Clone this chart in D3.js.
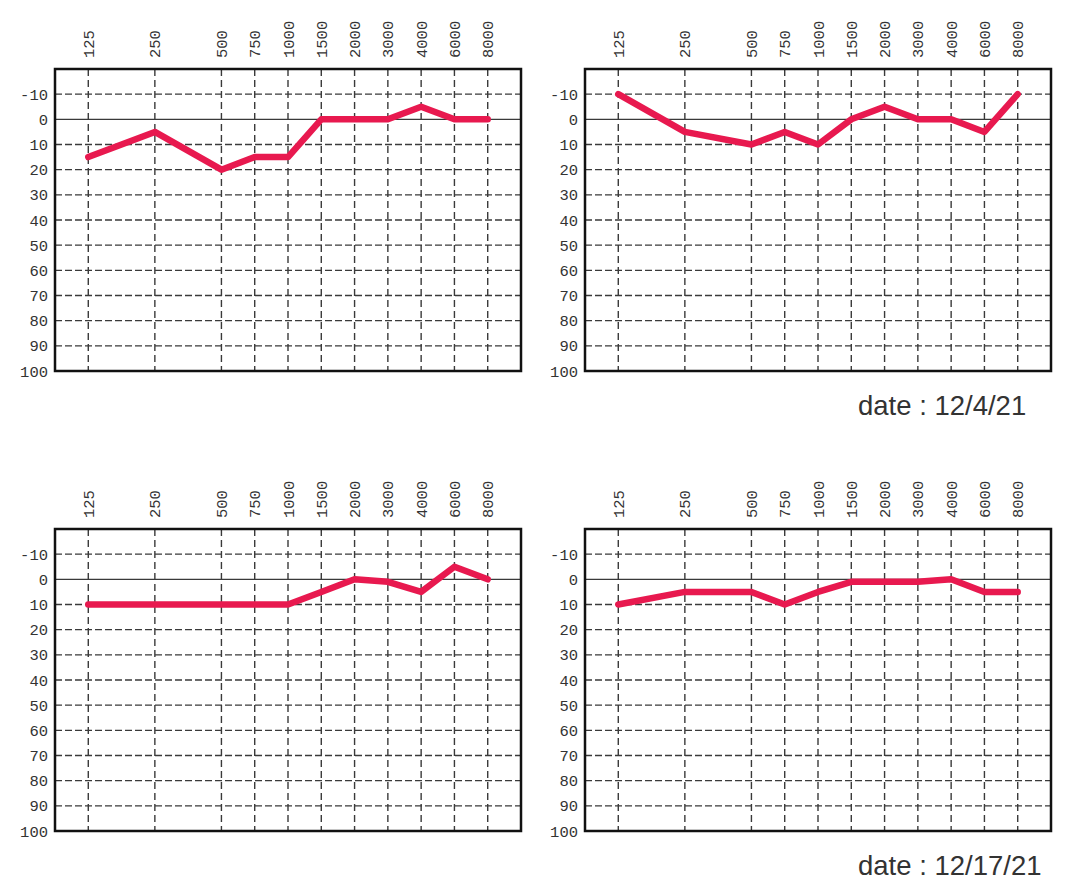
<!DOCTYPE html>
<html>
<head>
<meta charset="utf-8">
<script src="https://cdn.jsdelivr.net/npm/d3@7"></script>
<style>
  body { margin: 0; background: #fff; }
</style>
</head>
<body>
<script>
// audiogram panels, 2 x 2

const freqs = [125, 250, 500, 750, 1000, 1500, 2000, 3000, 4000, 6000, 8000];
const dbTicks = [-10, 0, 10, 20, 30, 40, 50, 60, 70, 80, 90, 100];

// hearing level (dB) per frequency, one array per panel
const topLeft = [15, 5, 20, 15, 15, 0, 0, 0, -5, 0, 0];
const topRight = [-10, 5, 10, 5, 10, 0, -5, 0, 0, 5, -10];
const bottomLeft = [10, 10, 10, 10, 10, 5, 0, 1, 5, -5, 0];
const bottomRight = [10, 5, 5, 10, 5, 1, 1, 1, 0, 5, 5];

const dates = ["date : 12/4/21", "date : 12/17/21"];

//---- drawing parameters
const W = 1068, H = 888;
const plotW = 466, plotH = 302;
const colX = [55, 585];
const rowY = [69, 529];
const lineColor = "#e8194f";
const labelFont = "'Liberation Mono', 'DejaVu Sans Mono', monospace";

const svg = d3.select("body").append("svg")
  .attr("width", W)
  .attr("height", H);

// slot on the audiogram: octaves get 2 slots, the in-between freqs sit one slot on
const slot = f => Math.round(2 * Math.log2(f / 125));

const x = d3.scaleLinear().domain([-1, 13]).range([0, plotW]);
const y = d3.scaleLinear().domain([-20, 100]).range([0, plotH]);

const panels = [
  { values: topLeft, col: 0, row: 0 },
  { values: topRight, col: 1, row: 0 },
  { values: bottomLeft, col: 0, row: 1 },
  { values: bottomRight, col: 1, row: 1 }
];

panels.forEach(p => {
  const g = svg.append("g")
    .attr("transform", `translate(${colX[p.col]},${rowY[p.row]})`);

  // horizontal grid (0 line is solid)
  g.selectAll("line.h")
      .data(dbTicks.filter(d => d < 100))
      .enter()
    .append("line")
      .attr("class", "h")
      .attr("x1", 0)
      .attr("x2", plotW)
      .attr("y1", d => y(d))
      .attr("y2", d => y(d))
      .attr("stroke", "#3a3a3a")
      .attr("stroke-width", 1.4)
      .attr("stroke-dasharray", d => d === 0 ? null : "7,3");

  // vertical grid
  g.selectAll("line.v")
      .data(freqs)
      .enter()
    .append("line")
      .attr("class", "v")
      .attr("x1", f => x(slot(f)))
      .attr("x2", f => x(slot(f)))
      .attr("y1", 0)
      .attr("y2", plotH)
      .attr("stroke", "#3a3a3a")
      .attr("stroke-width", 1.4)
      .attr("stroke-dasharray", "7,4");

  // frame
  g.append("rect")
    .attr("width", plotW)
    .attr("height", plotH)
    .attr("fill", "none")
    .attr("stroke", "#111")
    .attr("stroke-width", 2.5);

  // y labels
  g.selectAll("text.y")
      .data(dbTicks)
      .enter()
    .append("text")
      .attr("class", "y")
      .attr("x", -7)
      .attr("y", d => y(d))
      .attr("dy", "0.36em")
      .attr("text-anchor", "end")
      .attr("font-family", labelFont)
      .attr("font-size", 15.5)
      .attr("fill", "#333")
      .text(d => d);

  // x labels, rotated
  g.selectAll("text.x")
      .data(freqs)
      .enter()
    .append("text")
      .attr("class", "x")
      .attr("transform", f => `translate(${x(slot(f))},-11) rotate(-90)`)
      .attr("dy", "0.36em")
      .attr("text-anchor", "start")
      .attr("font-family", labelFont)
      .attr("font-size", 15.5)
      .attr("fill", "#333")
      .text(f => f);

  // threshold line
  const line = d3.line()
    .x((v, i) => x(slot(freqs[i])))
    .y(v => y(v));

  g.append("path")
    .datum(p.values)
    .attr("d", line)
    .attr("fill", "none")
    .attr("stroke", lineColor)
    .attr("stroke-width", 6.5)
    .attr("stroke-linejoin", "round")
    .attr("stroke-linecap", "round");
});

// dates under the right-hand panels
svg.selectAll("text.date")
    .data(dates)
    .enter()
  .append("text")
    .attr("class", "date")
    .attr("x", 858)
    .attr("y", (d, i) => rowY[i] + plotH + 44)
    .attr("font-family", "'Liberation Sans', Arial, sans-serif")
    .attr("font-size", 27.5)
    .attr("fill", "#333")
    .text(d => d);
</script>
</body>
</html>
